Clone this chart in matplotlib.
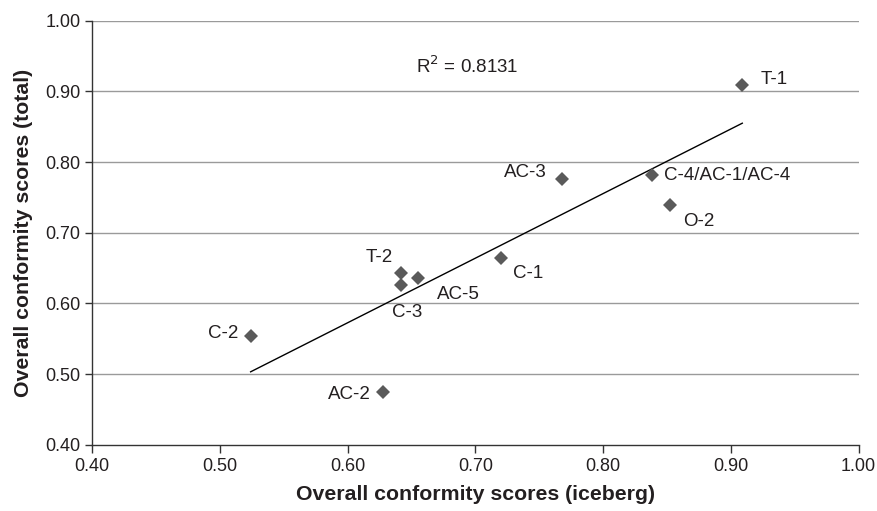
"""
Conformity scores: iceberg vs total, with linear trend and R^2.
"""

import matplotlib
matplotlib.use("Agg")
import matplotlib.pyplot as plt
import numpy as np

plt.rcParams["font.family"] = ["Liberation Sans", "DejaVu Sans"]

# data
labels = ["T-1", "AC-3", "C-4/AC-1/AC-4", "O-2", "T-2", "AC-5",
          "C-3", "C-1", "C-2", "AC-2"]
iceberg = [0.909, 0.768, 0.838, 0.852, 0.642, 0.655, 0.642, 0.720, 0.524, 0.628]
total = [0.909, 0.776, 0.781, 0.739, 0.643, 0.636, 0.626, 0.664, 0.554, 0.4745]
r2_text = "R$^2$ = 0.8131"

# label offsets in points (dx, dy, ha)
offsets = {
    "T-1": (13, 4, "left"),
    "AC-3": (-11, 5, "right"),
    "C-4/AC-1/AC-4": (9, 0, "left"),
    "O-2": (10, -12, "left"),
    "T-2": (-6, 11, "right"),
    "AC-5": (14, -12, "left"),
    "C-3": (4, -20, "center"),
    "C-1": (9, -11, "left"),
    "C-2": (-9, 2, "right"),
    "AC-2": (-9, -2, "right"),
}

TXT = "#231f20"


def main():
    x = np.array(iceberg)
    y = np.array(total)
    slope, icpt = np.polyfit(x, y, 1)
    xs = np.array([x.min(), x.max()])

    fig = plt.figure(figsize=(8.78, 5.11), dpi=100)
    ax = fig.add_axes([0.1051, 0.1297, 0.8727, 0.8298])

    ax.set_xlim(0.40, 1.00)
    ax.set_ylim(0.40, 1.00)
    ax.set_xticks(np.arange(0.40, 1.001, 0.10))
    ax.set_yticks(np.arange(0.40, 1.001, 0.10))
    ax.xaxis.set_major_formatter(matplotlib.ticker.FormatStrFormatter("%.2f"))
    ax.yaxis.set_major_formatter(matplotlib.ticker.FormatStrFormatter("%.2f"))

    for gy in np.arange(0.50, 1.001, 0.10):
        ax.axhline(gy, color="#9a9a9a", lw=1.0, zorder=0)

    ax.plot(xs, slope * xs + icpt, color="black", lw=1.0, zorder=2)
    ax.plot(x, y, "D", color="#5a5a5a", ms=7, mew=0, zorder=3)

    for lab, xi, yi in zip(labels, x, y):
        dx, dy, ha = offsets[lab]
        ax.annotate(lab, (xi, yi), xytext=(dx, dy), textcoords="offset points",
                    ha=ha, va="center", fontsize=13.5, color=TXT)

    ax.text(0.6535, 0.935, r2_text, ha="left", va="center", fontsize=13.5, color=TXT)

    for s in ["top", "right"]:
        ax.spines[s].set_visible(False)
    for s in ["left", "bottom"]:
        ax.spines[s].set_color("#333333")
        ax.spines[s].set_linewidth(1.0)
    ax.tick_params(axis="both", direction="out", length=6, width=1.0,
                   color="#333333", labelsize=13, labelcolor=TXT)
    ax.tick_params(axis="y", length=5)

    ax.set_xlabel("Overall conformity scores (iceberg)", fontsize=15.3,
                  fontweight="bold", color=TXT, labelpad=7)
    ax.set_ylabel("Overall conformity scores (total)", fontsize=15.3,
                  fontweight="bold", color=TXT, labelpad=9)

    fig.savefig("out.png", dpi=100)
    plt.close(fig)


if __name__ == "__main__":
    main()
